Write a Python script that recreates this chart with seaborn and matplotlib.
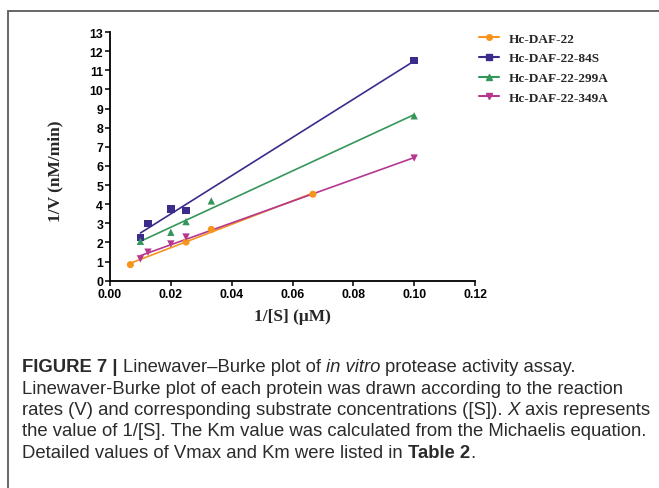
import numpy as np
import pandas as pd
import matplotlib
matplotlib.use("Agg")
import matplotlib.pyplot as plt
import seaborn as sns
from matplotlib.lines import Line2D
from matplotlib.patches import Rectangle

# ---------------- data ----------------
series_names = ["Hc-DAF-22", "Hc-DAF-22-84S", "Hc-DAF-22-299A", "Hc-DAF-22-349A"]

x_daf22 = [0.0067, 0.025, 0.0333, 0.0667]
y_daf22 = [0.84, 2.02, 2.68, 4.52]

x_84s = [0.01, 0.0125, 0.02, 0.025, 0.1]
y_84s = [2.27, 3.00, 3.75, 3.68, 11.50]

x_299a = [0.01, 0.02, 0.025, 0.0333, 0.1]
y_299a = [2.06, 2.53, 3.09, 4.17, 8.62]

x_349a = [0.01, 0.0125, 0.02, 0.025, 0.1]
y_349a = [1.14, 1.49, 1.92, 2.28, 6.41]

x_ticks = [0.00, 0.02, 0.04, 0.06, 0.08, 0.10, 0.12]
y_ticks = [0, 1, 2, 3, 4, 5, 6, 7, 8, 9, 10, 11, 12, 13]

x_label = "1/[S] (μM)"
y_label = "1/V (nM/min)"

series_colors = ["#F7941E", "#3B2C8C", "#35965A", "#B5378E"]
series_markers = ["o", "s", "^", "v"]

frames = []
for name, xs, ys in zip(series_names,
                        [x_daf22, x_84s, x_299a, x_349a],
                        [y_daf22, y_84s, y_299a, y_349a]):
    frames.append(pd.DataFrame({"inv_s": xs, "inv_v": ys, "protein": name}))
df = pd.concat(frames, ignore_index=True)

# ---------------- style ----------------
sns.set_style("ticks")
plt.rcParams["font.family"] = ["Liberation Sans", "DejaVu Sans"]

W, H = 659, 489
fig = plt.figure(figsize=(W / 100, H / 100), dpi=100)
fig.patch.set_facecolor("white")

# outer frame (cropped box)
fig.patches.append(Rectangle((8 / W, -0.2), 2.0, 1.2 - 12 / H,
                             transform=fig.transFigure, fill=False,
                             edgecolor="#5a5a5a", linewidth=1.3, zorder=0))

ax = fig.add_axes([110 / W, 1 - 281.7 / H, 365 / W, 248.7 / H])
ax.set_facecolor("white")

for name, col, mk in zip(series_names, series_colors, series_markers):
    sub = df[df["protein"] == name]
    sns.regplot(data=sub, x="inv_s", y="inv_v", ax=ax, scatter=False, ci=None,
                truncate=True, color=col, line_kws={"linewidth": 1.2})
    sns.scatterplot(data=sub, x="inv_s", y="inv_v", ax=ax, color=col, marker=mk,
                    s=28 if mk != "o" else 26, edgecolor="none", legend=False,
                    zorder=3)

ax.set_xlim(0, 0.12)
ax.set_ylim(0, 13)
ax.set_xticks(x_ticks)
ax.set_yticks(y_ticks)
ax.set_xticklabels([f"{v:.2f}" for v in x_ticks])
ax.set_yticklabels([str(v) for v in y_ticks])
for lab in ax.get_xticklabels() + ax.get_yticklabels():
    lab.set_fontweight("bold")
    lab.set_fontsize(8.8)
    lab.set_color("black")
ax.tick_params(axis="both", direction="out", length=3.5, width=1.1, pad=1.5,
               color="black")
for side in ["top", "right"]:
    ax.spines[side].set_visible(False)
for side in ["left", "bottom"]:
    ax.spines[side].set_linewidth(1.3)
    ax.spines[side].set_color("black")

serif_bold = {"family": ["Liberation Serif", "DejaVu Serif"], "weight": "bold",
              "size": 12.5}
ax.set_xlabel(x_label, fontdict=serif_bold)
ax.set_ylabel(y_label, fontdict=serif_bold)
ax.xaxis.set_label_coords(0.5, (281.7 - 316.7) / 248.7)
ax.xaxis.label.set_verticalalignment("center")
ax.yaxis.set_label_coords((55 - 110) / 365, (281.7 - 171.7) / 248.7)
ax.yaxis.label.set_verticalalignment("center")
ax.yaxis.label.set_horizontalalignment("center")

# legend
handles = [Line2D([0], [0], color=c, marker=m, markersize=4, linewidth=1.5)
           for c, m in zip(series_colors, series_markers)]
fig.legend(handles, series_names, loc="upper left",
           bbox_to_anchor=(479 / W, 1 - 33.5 / H), frameon=False,
           prop={"family": ["Liberation Serif", "DejaVu Serif"], "weight": "bold",
                 "size": 9.5},
           handlelength=1.55, handletextpad=0.7, labelspacing=0.57,
           borderpad=0, borderaxespad=0)

# ---------------- caption ----------------
cap_family = ["Liberation Sans", "DejaVu Sans"]
cap_size = 13.3
cap_color = "#2b2b2b"
renderer = fig.canvas.get_renderer()

def text_width(s, weight, style):
    t = fig.text(0, 0, s, fontsize=cap_size, fontweight=weight, fontstyle=style,
                 family=cap_family)
    w = t.get_window_extent(renderer).width
    t.remove()
    return w

space_w = text_width("a a", "normal", "normal") - text_width("aa", "normal", "normal")

caption_lines = [
    [("FIGURE 7 |", "bold", "normal"), ("Linewaver–Burke plot of", "normal", "normal"),
     ("in vitro", "normal", "italic"), ("protease activity assay.", "normal", "normal")],
    [("Linewaver-Burke plot of each protein was drawn according to the reaction", "normal", "normal")],
    [("rates (V) and corresponding substrate concentrations ([S]).", "normal", "normal"),
     ("X", "normal", "italic"), ("axis represents", "normal", "normal")],
    [("the value of 1/[S]. The Km value was calculated from the Michaelis equation.", "normal", "normal")],
    [("Detailed values of Vmax and Km were listed in", "normal", "normal"),
     ("Table 2", "bold", "normal"), (".", "normal", "normal")],
]
baselines = [372, 393.5, 415, 436.5, 458]

for runs, base in zip(caption_lines, baselines):
    x = 22.0
    for i, (txt, weight, style) in enumerate(runs):
        if i > 0 and txt != ".":
            x += space_w
        t = fig.text(x / W, 1 - base / H, txt, fontsize=cap_size, fontweight=weight,
                     fontstyle=style, family=cap_family, color=cap_color,
                     ha="left", va="baseline")
        x += t.get_window_extent(renderer).width

fig.savefig("out.png", dpi=100, facecolor="white")
